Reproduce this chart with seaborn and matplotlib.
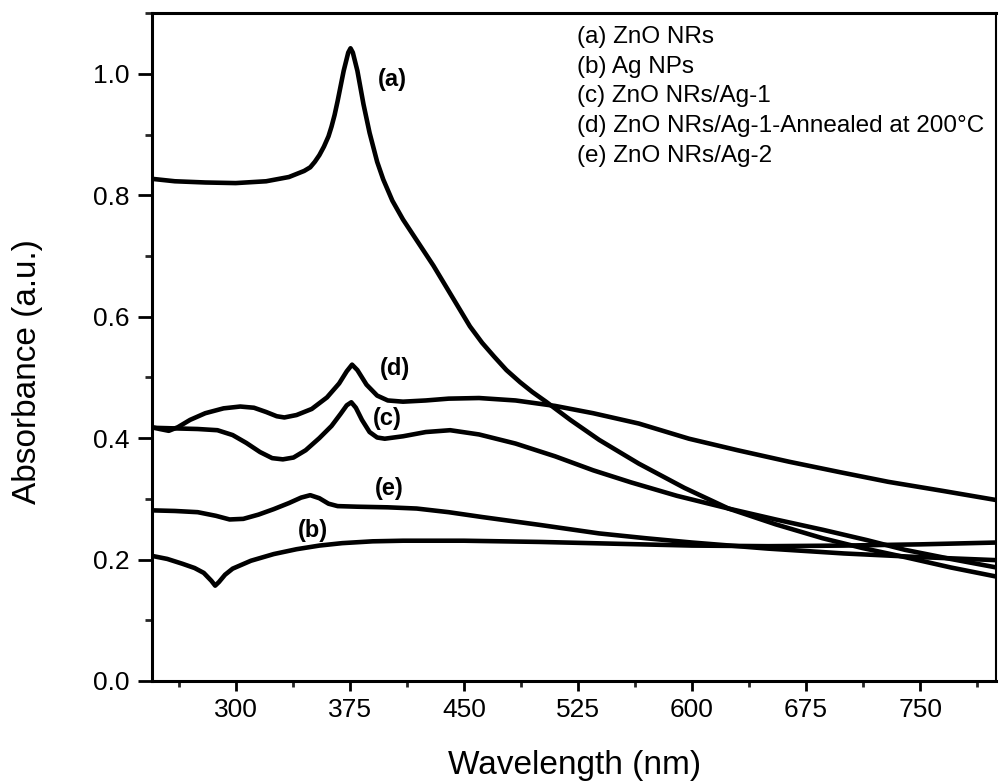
import numpy as np
import pandas as pd
import matplotlib
matplotlib.use("Agg")
import matplotlib.pyplot as plt
from matplotlib.lines import Line2D
from matplotlib.ticker import MultipleLocator
import seaborn as sns

# ---------------- data ----------------
wl_a = [245, 260, 280, 300, 320, 335, 345, 349, 352, 355, 358, 361, 363, 365, 367, 369, 371, 374,
        375.5, 377, 380, 384, 388, 393, 397, 403, 410, 420, 430, 442, 454, 462, 470, 478, 487, 495,
        504, 520, 539, 565, 595, 624, 655, 686, 712, 740, 770, 800]
abs_a = [0.827, 0.823, 0.821, 0.820, 0.823, 0.830, 0.840, 0.846, 0.855, 0.866, 0.880, 0.897, 0.913,
         0.932, 0.955, 0.980, 1.005, 1.035, 1.042, 1.035, 1.005, 0.950, 0.903, 0.855, 0.826, 0.791,
         0.760, 0.722, 0.684, 0.634, 0.584, 0.557, 0.534, 0.512, 0.492, 0.476, 0.460, 0.430, 0.397,
         0.358, 0.318, 0.284, 0.258, 0.235, 0.219, 0.204, 0.187, 0.172]

wl_b = [245, 255, 265, 273, 279, 284, 286.5, 289, 293, 298, 310, 325, 340, 355, 370, 390, 410, 450,
        500, 550, 600, 650, 700, 750, 800]
abs_b = [0.206, 0.201, 0.193, 0.186, 0.178, 0.165, 0.157, 0.163, 0.175, 0.185, 0.198, 0.209, 0.217,
         0.223, 0.227, 0.230, 0.231, 0.231, 0.229, 0.226, 0.223, 0.222, 0.223, 0.225, 0.228]

wl_c = [245, 260, 275, 288, 298, 307, 316, 324, 331, 338, 346, 355, 363, 369, 373, 376, 379, 383,
        388, 393, 398, 410, 425, 441, 460, 484, 510, 535, 560, 590, 624, 655, 686, 715, 740, 770, 800]
abs_c = [0.417, 0.416, 0.415, 0.413, 0.405, 0.392, 0.377, 0.367, 0.365, 0.368, 0.380, 0.400, 0.420,
         0.440, 0.454, 0.459, 0.450, 0.430, 0.410, 0.401, 0.399, 0.403, 0.410, 0.413, 0.406, 0.391,
         0.370, 0.347, 0.327, 0.305, 0.284, 0.266, 0.249, 0.232, 0.216, 0.201, 0.187]

wl_d = [245, 250, 256, 262, 270, 280, 292, 303, 312, 320, 327, 332, 340, 350, 360, 368, 373, 376.5,
        380, 386, 393, 400, 410, 425, 440, 460, 484, 510, 535, 565, 598, 630, 664, 697, 729, 765, 800]
abs_d = [0.418, 0.415, 0.412, 0.418, 0.430, 0.441, 0.449, 0.452, 0.450, 0.443, 0.436, 0.434, 0.438,
         0.448, 0.467, 0.490, 0.510, 0.521, 0.512, 0.488, 0.470, 0.462, 0.460, 0.462, 0.465, 0.466,
         0.462, 0.453, 0.441, 0.424, 0.399, 0.380, 0.361, 0.344, 0.328, 0.313, 0.298]

wl_e = [245, 260, 275, 287, 296, 305, 315, 325, 335, 343, 349, 355, 361, 367, 380, 400, 419, 440,
        462, 500, 539, 570, 600, 650, 700, 750, 800]
abs_e = [0.281, 0.280, 0.278, 0.272, 0.266, 0.267, 0.274, 0.283, 0.293, 0.302, 0.306, 0.301, 0.292,
         0.288, 0.287, 0.286, 0.284, 0.278, 0.270, 0.257, 0.243, 0.235, 0.228, 0.218, 0.210, 0.204,
         0.199]

series_keys = ["(a)", "(b)", "(c)", "(d)", "(e)"]
legend_labels = ["(a) ZnO NRs", "(b) Ag NPs", "(c) ZnO NRs/Ag-1",
                 "(d) ZnO NRs/Ag-1-Annealed at 200\u00b0C", "(e) ZnO NRs/Ag-2"]
x_ticks = [300, 375, 450, 525, 600, 675, 750]
y_ticks = [0.0, 0.2, 0.4, 0.6, 0.8, 1.0]
x_label = "Wavelength (nm)"
y_label = "Absorbance (a.u.)"

# positions of the in-plot curve tags (style, not data)
tag_pos = {"(a)": (403, 0.99), "(b)": (351, 0.248), "(c)": (400, 0.432),
           "(d)": (404.5, 0.514), "(e)": (401, 0.317)}

# ---------------- build long table ----------------
frames = []
for key, wl, ab in zip(series_keys, [wl_a, wl_b, wl_c, wl_d, wl_e],
                       [abs_a, abs_b, abs_c, abs_d, abs_e]):
    frames.append(pd.DataFrame({"Wavelength": wl, "Absorbance": ab, "Sample": key}))
df = pd.concat(frames, ignore_index=True)

# ---------------- style ----------------
sns.set_theme(style="ticks")
plt.rcParams["font.family"] = ["Liberation Sans", "DejaVu Sans"]
plt.rcParams["axes.linewidth"] = 2.2

fig = plt.figure(figsize=(9.99, 7.83), dpi=100)
fig.patch.set_facecolor("white")
ax = fig.add_axes([0.1522, 0.1303, 0.845, 0.853])
ax.set_facecolor("white")

sns.lineplot(data=df, x="Wavelength", y="Absorbance", hue="Sample",
             palette=["black"] * 5, estimator=None, sort=True, legend=False,
             linewidth=3.3, ax=ax)
for ln in ax.get_lines():
    ln.set_solid_joinstyle("round")
    ln.set_solid_capstyle("round")

ax.set_xlim(245, 800)
ax.set_ylim(0, 1.1)
ax.set_xticks(x_ticks)
ax.set_yticks(y_ticks)
ax.set_yticklabels([f"{v:.1f}" for v in y_ticks])
ax.xaxis.set_minor_locator(MultipleLocator(37.5))
ax.yaxis.set_minor_locator(MultipleLocator(0.1))

for s in ["top", "left", "bottom"]:
    ax.spines[s].set_linewidth(2.2)
    ax.spines[s].set_color("black")
ax.spines["right"].set_linewidth(1.5)
ax.spines["right"].set_color("black")

ax.tick_params(axis="x", which="major", direction="out", length=7, width=2.0,
               labelsize=19, pad=5, colors="black")
ax.tick_params(axis="x", which="minor", direction="out", length=4, width=2.0)
ax.tick_params(axis="y", which="major", direction="out", length=10, width=2.0,
               labelsize=19, pad=6, colors="black")
ax.tick_params(axis="y", which="minor", direction="out", length=5, width=2.0)

ax.set_xlabel(x_label, fontsize=24, color="black")
ax.set_ylabel(y_label, fontsize=24, color="black")
ax.xaxis.label.set_va("center")
ax.yaxis.label.set_va("center")
ax.xaxis.set_label_coords(0.5, -0.126)
ax.yaxis.set_label_coords(-0.147, 0.464)

for key in series_keys:
    x, y = tag_pos[key]
    ax.text(x, y, key, fontsize=17, fontweight="bold", ha="center", va="center",
            color="black")

handles = [Line2D([], [], color="none") for _ in legend_labels]
leg = ax.legend(handles, legend_labels, loc="upper left",
                bbox_to_anchor=(0.5036, 0.981), frameon=False, fontsize=17.5,
                handlelength=0, handletextpad=0, borderpad=0, borderaxespad=0,
                labelspacing=0.32)
for t in leg.get_texts():
    t.set_color("black")

fig.savefig("out.png", dpi=100, facecolor="white")
